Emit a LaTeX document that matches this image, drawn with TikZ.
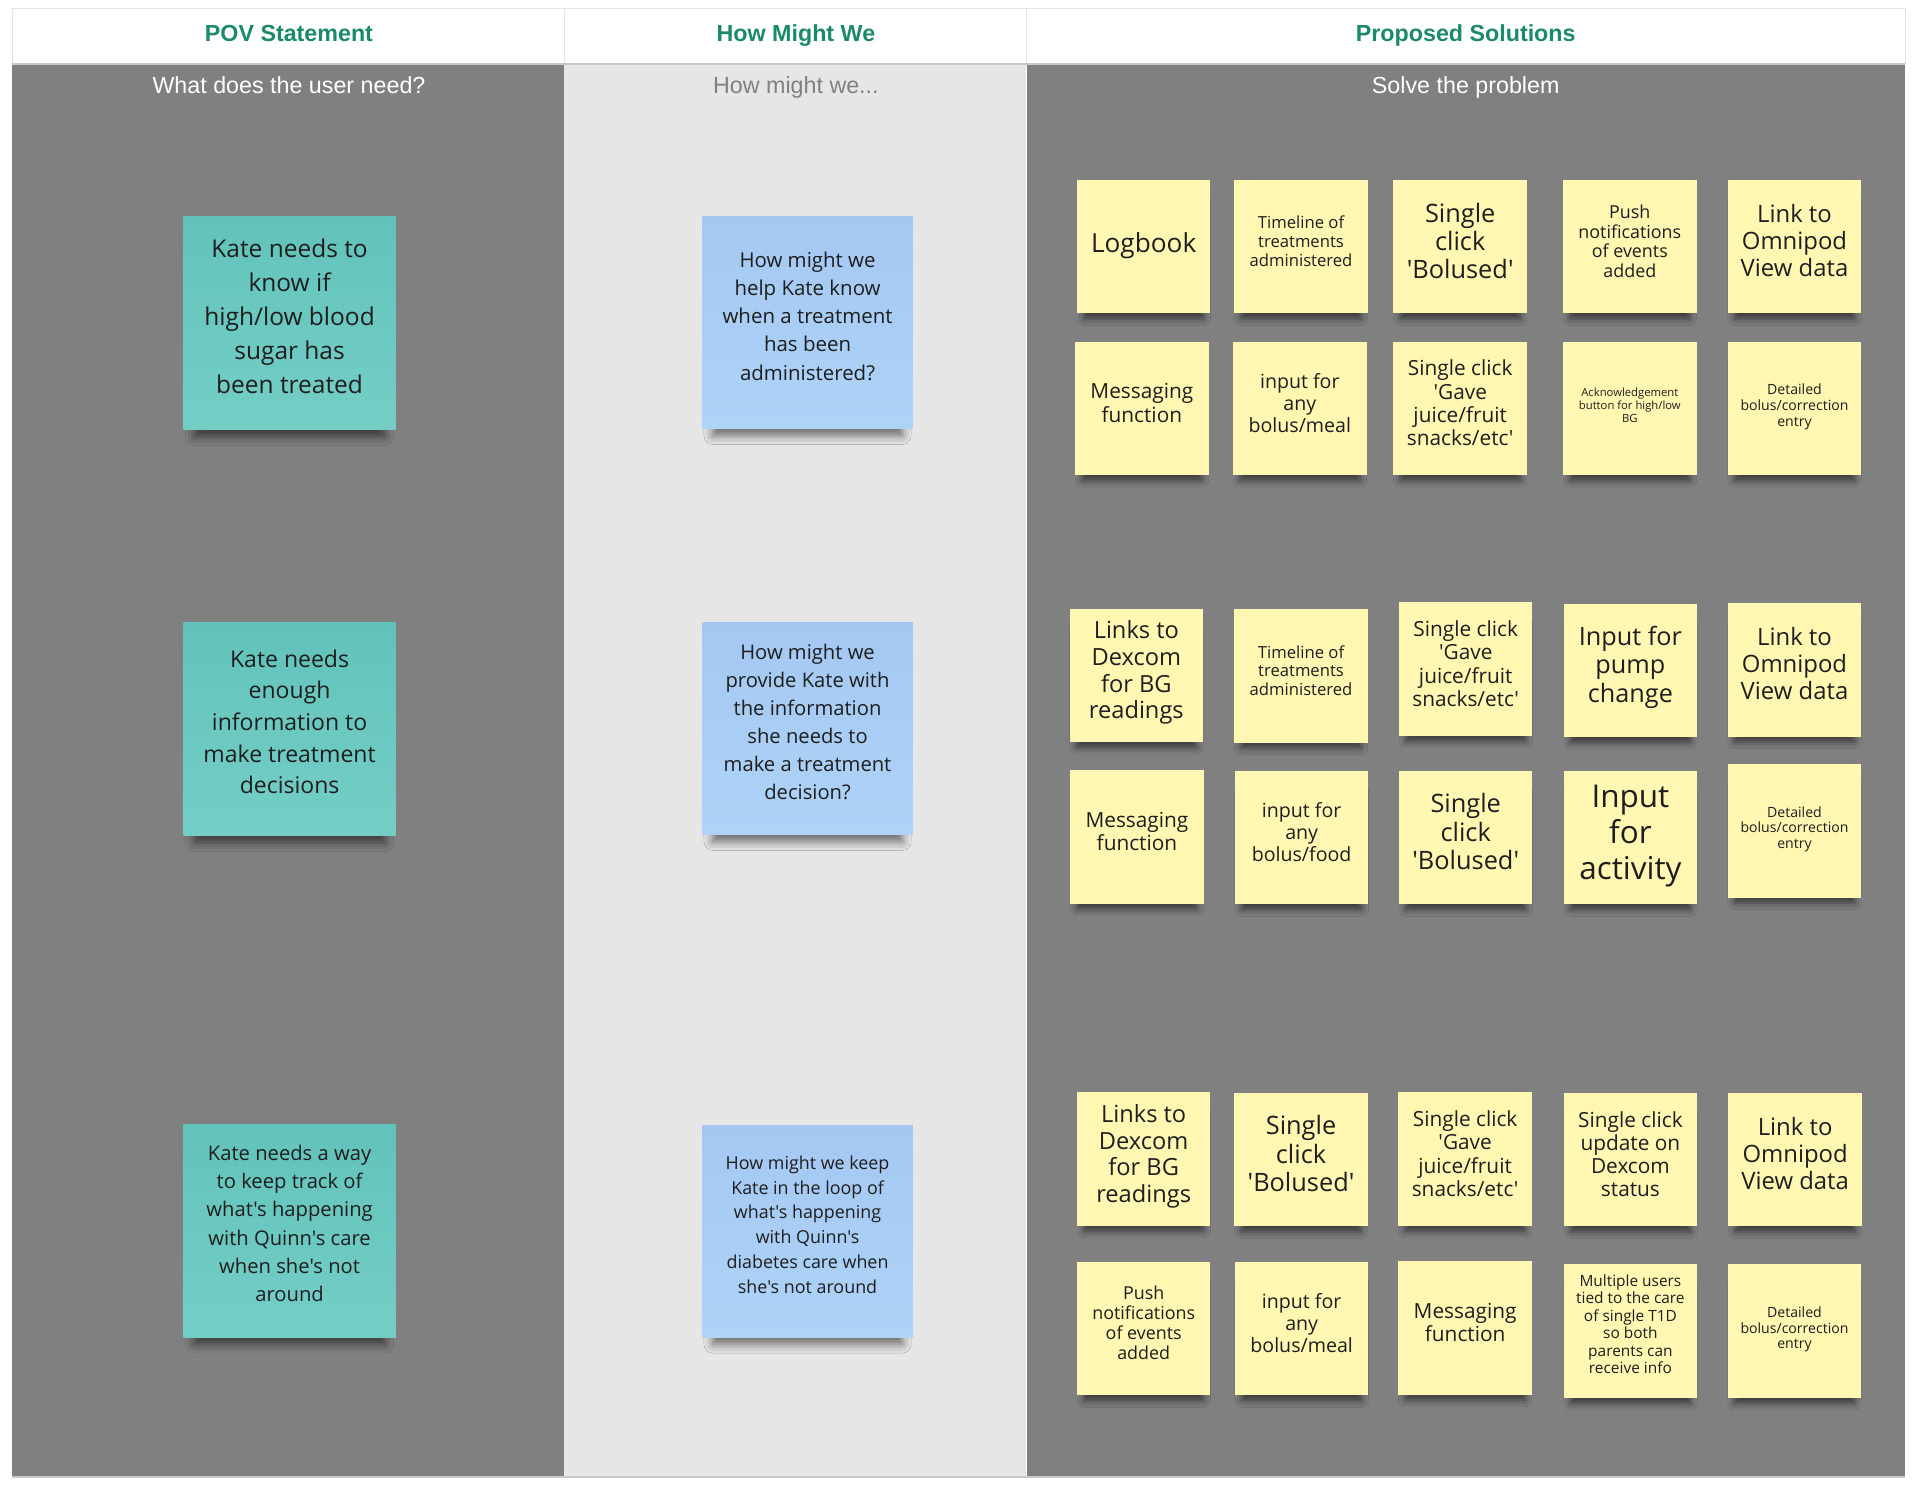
\documentclass[tikz,border=0pt]{standalone}
\usepackage{fontspec}
\setmainfont{Open Sans}[Ligatures=TeXOff]
\newfontfamily\headfont{Liberation Sans}
\usetikzlibrary{shadows.blur}

\definecolor{headgreen}{HTML}{1B8A6B}
\definecolor{boardgray}{HTML}{808080}
\definecolor{lanegray}{HTML}{E6E6E6}
\definecolor{rulegray}{HTML}{E4E4E4}
\definecolor{edgegray}{HTML}{C8C8C8}
\definecolor{tealtop}{HTML}{62C3BA}
\definecolor{tealbot}{HTML}{74CEC6}
\definecolor{bluetop}{HTML}{A4C8F2}
\definecolor{bluebot}{HTML}{AED3F7}
\definecolor{yellownote}{HTML}{FFF7B2}
\definecolor{inkcol}{HTML}{1E1E1E}

\newcommand{\notefont}[2]{\fontsize{#1}{#2}\selectfont}

\begin{document}
\begin{tikzpicture}[x=1pt, y=-1pt,
    sticky/.style={rectangle, inner sep=0pt, align=center, text=inkcol, text depth=9pt},
    bigshadow/.style={blur shadow={shadow xshift=0pt, shadow yshift=-16pt, shadow scale=0.9,
        shadow blur radius=8pt, shadow opacity=55}},
    smallshadow/.style={blur shadow={shadow xshift=0pt, shadow yshift=-11pt, shadow scale=0.9,
        shadow blur radius=6pt, shadow opacity=55}},
    pov/.style={sticky, bigshadow, top color=tealtop, bottom color=tealbot,
      minimum width=173pt, minimum height=174pt, text depth=12pt},
    hmw/.style={sticky, bigshadow, top color=bluetop, bottom color=bluebot,
      minimum width=172pt, minimum height=173pt, text depth=11pt},
    idea/.style={sticky, smallshadow, fill=yellownote, minimum width=109pt, minimum height=109pt},
    tiny/.style={text depth=5.5pt},
    colhead/.style={font=\headfont\bfseries\notefont{19}{23}, text=headgreen, anchor=base},
    subhead/.style={font=\headfont\notefont{19}{23}, anchor=base}
  ]
  \useasboundingbox (0,0) rectangle (1568,1214);
  \fill[white] (0,0) rectangle (1568,1214);

  % Columns
  \fill[boardgray] (10,52) rectangle (461,1205);
  \fill[lanegray] (461,52) rectangle (838,1205);
  \fill[boardgray] (838,52) rectangle (1556,1205);
  \draw[white, line width=1pt] (838,52) -- (838,1205);
  \draw[edgegray, line width=1.5pt] (10,1206) -- (1556,1206);

  % Header row
  \foreach \xa/\xb in {10/461, 461/838, 838/1556}
    \draw[rulegray, line width=1pt] (\xa,7) rectangle (\xb,52);
  \draw[edgegray, line width=1.5pt] (10,52) -- (1556,52);
  \node[colhead] (povhead) at (236,34) {POV Statement};
  \node[colhead] (hmwhead) at (650,34) {How Might We};
  \node[colhead] (solhead) at (1197,34) {Proposed Solutions};

  \node[subhead, text=white] (povsub) at (236,76) {What does the user need?};
  \node[subhead, text=boardgray] (hmwsub) at (650,76) {How might we...};
  \node[subhead, text=white] (solsub) at (1197,76) {Solve the problem};

  % POV statements
  \node[pov, font=\notefont{20}{27.8}] (pov1) at (236.5,264)
    {Kate needs to\\know if\\high/low blood\\sugar has\\been treated};
  \node[pov, font=\notefont{18.8}{25.8}] (pov2) at (236.5,595.5)
    {Kate needs\\enough\\information to\\make treatment\\decisions};
  \node[pov, font=\notefont{16.5}{23}] (pov3) at (236.5,1005)
    {Kate needs a way\\to keep track of\\what's happening\\with Quinn's care\\when she's not\\around};

  % How might we
  \node[hmw, font=\notefont{16.7}{23}] (hmw1) at (659.5,263.5)
    {How might we\\help Kate know\\when a treatment\\has been\\administered?};
  \node[hmw, font=\notefont{16.5}{23}] (hmw2) at (659.5,595)
    {How might we\\provide Kate with\\the information\\she needs to\\make a treatment\\decision?};
  \node[hmw, font=\notefont{14.6}{20.3}] (hmw3) at (659.5,1005.5)
    {How might we keep\\Kate in the loop of\\what's happening\\with Quinn's\\diabetes care when\\she's not around};

  % Solutions for statement 1
  \node[idea, font=\notefont{21.4}{24}, text depth=6.5pt] (s1a) at (934,201.5) {Logbook};
  \node[idea, font=\notefont{13.6}{15.3}] (s1b) at (1062.5,201.5) {Timeline of\\treatments\\administered};
  \node[idea, font=\notefont{20.7}{23}, text depth=10pt] (s1c) at (1192.5,201.5) {Single\\click\\'Bolused'};
  \node[idea, font=\notefont{14.6}{16.3}] (s1d) at (1331,201.5) {Push\\notifications\\of events\\added};
  \node[idea, font=\notefont{19.5}{22}, text depth=10pt] (s1e) at (1465.5,201.5) {Link to\\Omnipod\\View data};
  \node[idea, font=\notefont{17}{19}] (s1f) at (932.5,333.5) {Messaging\\function};
  \node[idea, font=\notefont{16}{18}] (s1g) at (1061.5,333.5) {input for\\any\\bolus/meal};
  \node[idea, font=\notefont{17}{19}] (s1h) at (1192.5,333.5) {Single click\\'Gave\\juice/fruit\\snacks/etc'};
  \node[idea, tiny, font=\notefont{9.2}{10.5}] (s1i) at (1331,333.5) {Acknowledgement\\button for high/low\\BG};
  \node[idea, tiny, font=\notefont{11.5}{12.8}] (s1j) at (1465.5,333.5) {Detailed\\bolus/correction\\entry};

  % Solutions for statement 2
  \node[idea, font=\notefont{19.3}{21.8}] (s2a) at (928,551.5) {Links to\\Dexcom\\for BG\\readings};
  \node[idea, font=\notefont{13.6}{15.3}] (s2b) at (1062.5,552) {Timeline of\\treatments\\administered};
  \node[idea, font=\notefont{17}{19}] (s2c) at (1197,546.5) {Single click\\'Gave\\juice/fruit\\snacks/etc'};
  \node[idea, font=\notefont{20.6}{23}, text depth=10pt] (s2d) at (1331.5,547.5) {Input for\\pump\\change};
  \node[idea, font=\notefont{19.5}{22}, text depth=10pt] (s2e) at (1465.5,547) {Link to\\Omnipod\\View data};
  \node[idea, font=\notefont{17}{19}] (s2f) at (928.5,683.5) {Messaging\\function};
  \node[idea, font=\notefont{16}{18}] (s2g) at (1063,684) {input for\\any\\bolus/food};
  \node[idea, font=\notefont{20.7}{23}, text depth=10pt] (s2h) at (1197,684) {Single\\click\\'Bolused'};
  \node[idea, font=\notefont{25.7}{29.2}] (s2i) at (1331.5,684) {Input\\for\\activity};
  \node[idea, tiny, font=\notefont{11.5}{12.8}] (s2j) at (1465.5,678.5) {Detailed\\bolus/correction\\entry};

  % Solutions for statement 3
  \node[idea, font=\notefont{19.3}{21.8}] (s3a) at (934,946.5) {Links to\\Dexcom\\for BG\\readings};
  \node[idea, font=\notefont{20.7}{23}, text depth=10pt] (s3b) at (1062.5,947) {Single\\click\\'Bolused'};
  \node[idea, font=\notefont{17}{19}] (s3c) at (1196.5,946.5) {Single click\\'Gave\\juice/fruit\\snacks/etc'};
  \node[idea, font=\notefont{17}{19}] (s3d) at (1331.5,947) {Single click\\update on\\Dexcom\\status};
  \node[idea, font=\notefont{19.5}{22}, text depth=10pt] (s3e) at (1466,947) {Link to\\Omnipod\\View data};
  \node[idea, font=\notefont{14.6}{16.3}] (s3f) at (934,1085) {Push\\notifications\\of events\\added};
  \node[idea, font=\notefont{16}{18}] (s3g) at (1063,1085) {input for\\any\\bolus/meal};
  \node[idea, font=\notefont{17}{19}] (s3h) at (1196.5,1084.5) {Messaging\\function};
  \node[idea, font=\notefont{12.6}{14.3}, text depth=11pt] (s3i) at (1331.5,1087) {Multiple users\\tied to the care\\of single T1D\\so both\\parents can\\receive info};
  \node[idea, tiny, font=\notefont{11.5}{12.8}] (s3j) at (1465.5,1087) {Detailed\\bolus/correction\\entry};

\end{tikzpicture}
\end{document}
